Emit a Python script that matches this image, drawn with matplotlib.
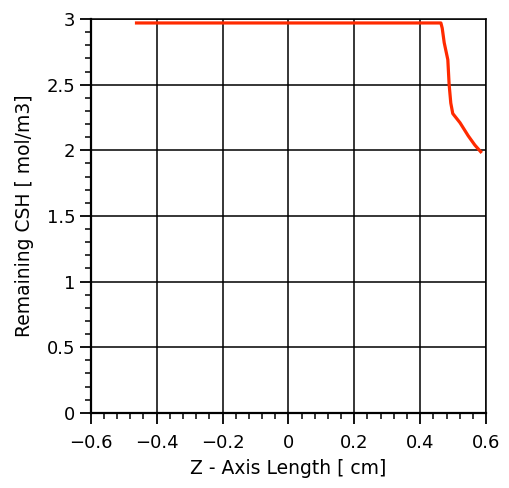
import matplotlib
matplotlib.use("Agg")
import matplotlib.pyplot as plt
from matplotlib.ticker import MultipleLocator

# datos
z_cm = [-0.466, 0.463, 0.467, 0.473, 0.484, 0.488, 0.493, 0.499, 0.521, 0.546, 0.566, 0.587]
csh = [2.97, 2.97, 2.93, 2.82, 2.69, 2.50, 2.36, 2.28, 2.21, 2.11, 2.04, 1.98]

x_ticks = [-0.6, -0.4, -0.2, 0, 0.2, 0.4, 0.6]
x_labels = ["\u22120.6", "\u22120.4", "\u22120.2", "0", "0.2", "0.4", "0.6"]
y_ticks = [0, 0.5, 1, 1.5, 2, 2.5, 3]
y_labels = ["0", "0.5", "1", "1.5", "2", "2.5", "3"]

plt.rcParams['font.family'] = ['DejaVu Sans']

fig = plt.figure(figsize=(5.1, 4.88), dpi=100)
ax = fig.add_axes([0.178, 0.154, 0.775, 0.807])

ax.plot(z_cm, csh, color='#ff2a00', linewidth=2.3, solid_capstyle='butt', zorder=3)

ax.set_xlim(-0.6, 0.6)
ax.set_ylim(0, 3)
ax.set_xticks(x_ticks)
ax.set_xticklabels(x_labels)
ax.set_yticks(y_ticks)
ax.set_yticklabels(y_labels)
ax.xaxis.set_minor_locator(MultipleLocator(0.04))
ax.yaxis.set_minor_locator(MultipleLocator(0.1))

ax.grid(True, which='major', color='black', linewidth=1.1)
ax.tick_params(axis='both', which='major', direction='out', length=8, width=1.3,
               labelsize=13, colors='black', pad=3)
ax.tick_params(axis='both', which='minor', direction='out', length=4, width=1.1)
ax.tick_params(axis='x', which='major', pad=7)

for s in ['left', 'bottom']:
    ax.spines[s].set_linewidth(1.6)
for s in ['top', 'right']:
    ax.spines[s].set_linewidth(1.1)

ax.set_xlabel("Z - Axis Length [ cm]", fontsize=13.5, labelpad=5)
ax.set_ylabel("Remaining CSH [ mol/m3]", fontsize=13.5, labelpad=9)

fig.savefig("out.png", dpi=100)
